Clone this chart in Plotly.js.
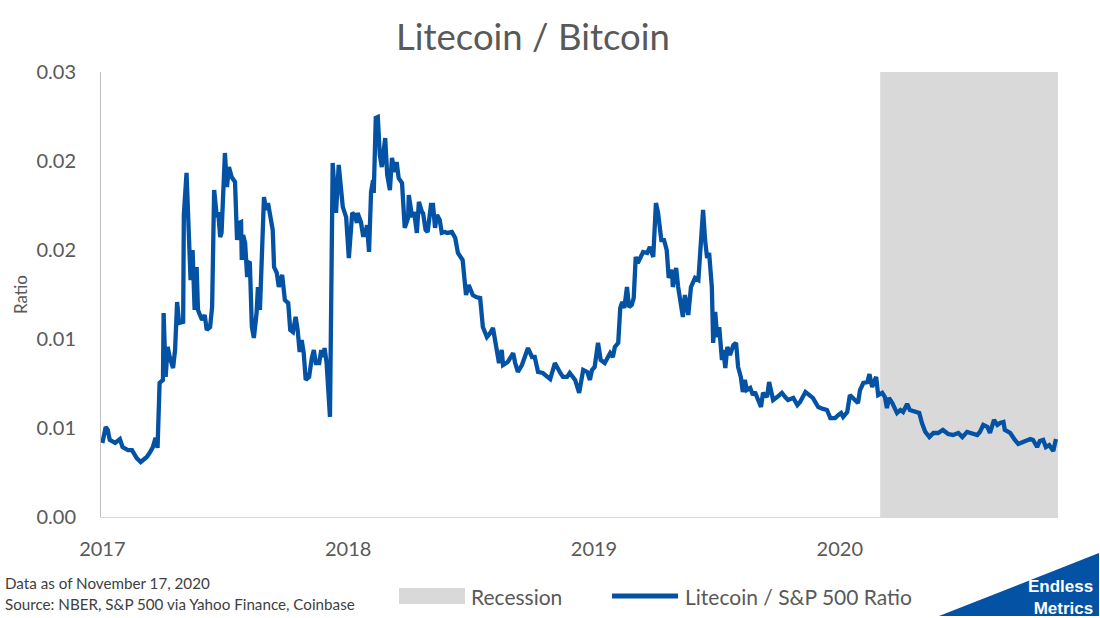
<!DOCTYPE html>
<html>
<head>
<meta charset="utf-8">
<script src="https://cdn.plot.ly/plotly-3.0.1.min.js"></script>
<style>
  html, body { margin: 0; padding: 0; background: #ffffff; }
  #chart { width: 1100px; height: 618px; outline: 1px solid #d9d9d9; outline-offset: -1px; }
</style>
</head>
<body>
<div id="chart"></div>
<script>
// ---------- data ----------
const dates = [
"2017-01-01","2017-01-06","2017-01-09","2017-01-12","2017-01-20","2017-01-27","2017-01-31","2017-02-08","2017-02-14","2017-02-21",
"2017-02-27","2017-03-08","2017-03-13","2017-03-17","2017-03-21","2017-03-24","2017-03-27","2017-04-01","2017-04-02","2017-04-05",
"2017-04-08","2017-04-11","2017-04-16","2017-04-19","2017-04-22","2017-04-25","2017-05-01","2017-05-02","2017-05-06","2017-05-12",
"2017-05-15","2017-05-18","2017-05-21","2017-05-23","2017-05-29","2017-06-02","2017-06-05","2017-06-10","2017-06-13","2017-06-16",
"2017-06-20","2017-06-22","2017-06-25","2017-06-27","2017-07-02","2017-07-05","2017-07-08","2017-07-12","2017-07-17","2017-07-20",
"2017-07-23","2017-07-26","2017-07-27","2017-07-29","2017-08-01","2017-08-04","2017-08-05","2017-08-08","2017-08-11","2017-08-14",
"2017-08-18","2017-08-20","2017-08-23","2017-08-26","2017-08-29","2017-09-01","2017-09-04","2017-09-11","2017-09-13","2017-09-17",
"2017-09-20","2017-09-25","2017-09-26","2017-09-29","2017-10-04","2017-10-07","2017-10-11","2017-10-15","2017-10-18","2017-10-21",
"2017-10-24","2017-10-27","2017-10-30","2017-11-04","2017-11-08","2017-11-11","2017-11-14","2017-11-19","2017-11-22","2017-11-25",
"2017-11-27","2017-11-30","2017-12-05","2017-12-09","2017-12-14","2017-12-18","2017-12-24","2017-12-29",
"2018-01-02","2018-01-07","2018-01-11","2018-01-14","2018-01-15","2018-01-20","2018-01-23","2018-01-26","2018-01-29","2018-02-01",
"2018-02-04","2018-02-07","2018-02-08","2018-02-11","2018-02-14","2018-02-17","2018-02-20","2018-02-25","2018-02-28","2018-03-04",
"2018-03-07","2018-03-11","2018-03-14","2018-03-17","2018-03-22","2018-03-26","2018-03-31","2018-04-01","2018-04-06","2018-04-09",
"2018-04-13","2018-04-16","2018-04-21","2018-04-22","2018-04-26","2018-04-29","2018-05-04","2018-05-07","2018-05-10","2018-05-13",
"2018-05-17","2018-05-20","2018-05-25","2018-05-28","2018-06-04","2018-06-09","2018-06-13","2018-06-20","2018-06-25","2018-06-29",
"2018-07-05","2018-07-10","2018-07-16","2018-07-20","2018-07-26","2018-07-31","2018-08-04","2018-08-10","2018-08-13","2018-08-17",
"2018-08-19","2018-08-26","2018-09-03","2018-09-06","2018-09-10","2018-09-16","2018-09-21","2018-09-25","2018-10-01","2018-10-05",
"2018-10-10","2018-10-17","2018-10-28","2018-11-04","2018-11-12","2018-11-16","2018-11-22","2018-11-26","2018-12-04","2018-12-10",
"2018-12-16","2018-12-22","2018-12-26","2018-12-29",
"2019-01-02","2019-01-07","2019-01-11","2019-01-17","2019-01-25","2019-01-29","2019-02-01","2019-02-06","2019-02-09","2019-02-12",
"2019-02-15","2019-02-19","2019-02-22","2019-02-26","2019-03-01","2019-03-04","2019-03-07","2019-03-12","2019-03-15","2019-03-21",
"2019-03-25","2019-03-30","2019-04-03","2019-04-06","2019-04-11","2019-04-15","2019-04-19","2019-04-22","2019-04-27","2019-04-28",
"2019-05-03","2019-05-06","2019-05-13","2019-05-16","2019-05-21","2019-05-25","2019-05-31","2019-06-05","2019-06-09","2019-06-12",
"2019-06-15","2019-06-18","2019-06-21","2019-06-25","2019-06-27","2019-06-30","2019-07-03","2019-07-06","2019-07-10","2019-07-12",
"2019-07-15","2019-07-18","2019-07-22","2019-07-27","2019-07-31","2019-08-03","2019-08-07","2019-08-10","2019-08-13","2019-08-16",
"2019-08-21","2019-08-25","2019-08-28","2019-09-02","2019-09-06","2019-09-09","2019-09-15","2019-09-18","2019-09-24","2019-09-30",
"2019-10-07","2019-10-12","2019-10-16","2019-10-24","2019-10-30","2019-11-03","2019-11-11","2019-11-22","2019-11-30","2019-12-07",
"2019-12-13","2019-12-18","2019-12-25","2019-12-30",
"2020-01-03","2020-01-06","2020-01-12","2020-01-16","2020-01-21","2020-01-28","2020-01-31","2020-02-05","2020-02-11","2020-02-14",
"2020-02-18","2020-02-24","2020-02-27","2020-03-04","2020-03-08","2020-03-11","2020-03-14","2020-03-19","2020-03-26","2020-03-31",
"2020-04-04","2020-04-10","2020-04-14","2020-04-22","2020-04-28","2020-05-02","2020-05-07","2020-05-13","2020-05-19","2020-05-26",
"2020-06-02","2020-06-10","2020-06-17","2020-06-25","2020-07-01","2020-07-08","2020-07-15","2020-07-23","2020-07-27","2020-08-01",
"2020-08-07","2020-08-11","2020-08-17","2020-08-22","2020-08-26","2020-08-31","2020-09-02","2020-09-10","2020-09-17","2020-09-22",
"2020-09-29","2020-10-10","2020-10-14","2020-10-20","2020-10-24","2020-10-29","2020-11-02","2020-11-07","2020-11-13","2020-11-17"
];

const ltcRatio = [
0.00416,0.00506,0.00489,0.00433,0.00416,0.00438,0.00393,0.00376,0.00376,0.00331,
0.00309,0.00337,0.00365,0.00393,0.00444,0.00388,0.00753,0.00770,0.01146,0.00787,
0.00955,0.00899,0.00837,0.00938,0.01208,0.01090,0.01096,0.01697,0.01933,0.01331,
0.01500,0.01163,0.01404,0.01163,0.01107,0.01135,0.01051,0.01067,0.01180,0.01837,
0.01685,0.01713,0.01573,0.01596,0.02045,0.01854,0.01966,0.01910,0.01882,0.01556,
0.01652,0.01657,0.01444,0.01584,0.01539,0.01348,0.01433,0.01427,0.01067,0.01006,
0.01146,0.01292,0.01163,0.01416,0.01798,0.01725,0.01764,0.01612,0.01404,0.01371,
0.01292,0.01360,0.01331,0.01219,0.01202,0.01051,0.01039,0.01124,0.01051,0.00927,
0.00994,0.00921,0.00770,0.00787,0.00893,0.00938,0.00865,0.00865,0.00938,0.00899,
0.00949,0.00865,0.00562,0.01989,0.01708,0.01978,0.01742,0.01685,
0.01455,0.01708,0.01697,0.01652,0.01708,0.01657,0.01584,0.01584,0.01640,0.01489,
0.01826,0.01893,0.01820,0.02242,0.02247,0.02034,0.01966,0.02129,0.01921,0.01837,
0.02017,0.01938,0.01994,0.01904,0.01876,0.01624,0.01680,0.01809,0.01685,0.01713,
0.01596,0.01770,0.01708,0.01713,0.01612,0.01601,0.01753,0.01753,0.01624,0.01697,
0.01669,0.01596,0.01601,0.01596,0.01601,0.01567,0.01483,0.01444,0.01247,0.01303,
0.01247,0.01236,0.01230,0.01067,0.01011,0.01034,0.01062,0.00938,0.00865,0.00938,
0.00854,0.00871,0.00921,0.00865,0.00815,0.00854,0.00899,0.00949,0.00899,0.00899,
0.00815,0.00809,0.00775,0.00865,0.00809,0.00787,0.00787,0.00809,0.00770,0.00697,
0.00826,0.00815,0.00770,0.00826,
0.00843,0.00978,0.00882,0.00865,0.00921,0.00899,0.00955,0.00978,0.01174,0.01208,
0.01174,0.01292,0.01180,0.01191,0.01230,0.01461,0.01427,0.01461,0.01489,0.01483,
0.01517,0.01461,0.01764,0.01713,0.01556,0.01556,0.01500,0.01343,0.01388,0.01292,
0.01399,0.01292,0.01124,0.01247,0.01135,0.01292,0.01343,0.01331,0.01573,0.01725,
0.01556,0.01455,0.01483,0.01292,0.00978,0.01152,0.01011,0.01067,0.00882,0.00938,
0.00837,0.00955,0.00910,0.00966,0.00978,0.00843,0.00787,0.00702,0.00770,0.00713,
0.00725,0.00685,0.00702,0.00657,0.00618,0.00697,0.00674,0.00758,0.00657,0.00674,
0.00697,0.00674,0.00657,0.00669,0.00629,0.00646,0.00702,0.00669,0.00618,0.00607,
0.00601,0.00556,0.00556,0.00573,
0.00584,0.00562,0.00590,0.00685,0.00663,0.00640,0.00713,0.00753,0.00758,0.00803,
0.00730,0.00787,0.00685,0.00697,0.00674,0.00612,0.00669,0.00640,0.00584,0.00601,
0.00590,0.00635,0.00601,0.00590,0.00584,0.00528,0.00478,0.00449,0.00472,0.00472,
0.00489,0.00466,0.00461,0.00472,0.00449,0.00478,0.00472,0.00461,0.00478,0.00517,
0.00506,0.00472,0.00545,0.00517,0.00528,0.00534,0.00489,0.00472,0.00433,0.00410,
0.00421,0.00438,0.00433,0.00393,0.00427,0.00433,0.00393,0.00404,0.00371,0.00438
];

const recessionStart = "2020-03-01";
const recessionEnd = "2020-11-20";

const yTickVals = [0, 0.005, 0.01, 0.015, 0.02, 0.025];
const yTickText = ["0.00", "0.01", "0.01", "0.02", "0.02", "0.03"];
const xTickVals = ["2017-01-01", "2018-01-01", "2019-01-01", "2020-01-01"];
const xTickText = ["2017", "2018", "2019", "2020"];

const seriesName = "Litecoin / S&P 500 Ratio";
const recessionName = "Recession";
const chartTitle = "Litecoin / Bitcoin";
const yTitle = "Ratio";
const noteDate = "Data as of November 17, 2020";
const noteSource = "Source: NBER, S&P 500 via Yahoo Finance, Coinbase";
const logoLines = ["Endless", "Metrics"];

// ---------- chart ----------
const FONT = "Lato, 'Open Sans', sans-serif";
const GREY = "#595959";
const BLUE = "#0452A4";
const SHADE = "#d9d9d9";

// helpers: convert pixel positions of decoration (legend, notes, logo) into paper coordinates
const PL = 101, PR = 1058, PT = 72, PB = 517;
const px = v => (v - PL) / (PR - PL);
const py = v => (PB - v) / (PB - PT);

const traces = [{
  type: "scatter",
  mode: "lines",
  x: dates,
  y: ltcRatio,
  name: seriesName,
  line: { color: BLUE, width: 4.3 },
  showlegend: false,
  hoverinfo: "x+y"
}];

const layout = {
  width: 1100,
  height: 618,
  margin: { l: PL, r: 1100 - PR, t: PT, b: 618 - PB, autoexpand: false },
  paper_bgcolor: "#ffffff",
  plot_bgcolor: "#ffffff",
  font: { family: FONT, color: GREY },
  title: {
    text: chartTitle,
    x: 0.4845, xref: "container", xanchor: "center",
    y: 0.94, yref: "container", yanchor: "middle",
    font: { size: 36.5, color: GREY, family: FONT }
  },
  xaxis: {
    type: "date",
    range: ["2016-12-30", recessionEnd],
    tickvals: xTickVals,
    ticktext: xTickText,
    showgrid: false,
    zeroline: false,
    showline: true,
    linecolor: SHADE,
    linewidth: 1,
    ticks: "",
    ticklabelstandoff: 14,
    tickfont: { size: 20, color: GREY, family: FONT }
  },
  yaxis: {
    range: [0, 0.025],
    tickvals: yTickVals,
    ticktext: yTickText,
    showgrid: false,
    zeroline: false,
    showline: true,
    linecolor: "#bfbfbf",
    linewidth: 1,
    ticks: "",
    ticklabelstandoff: 20,
    tickfont: { size: 20, color: GREY, family: FONT },
    title: { text: yTitle, standoff: 4, font: { size: 17, color: GREY, family: FONT } }
  },
  showlegend: false,
  shapes: [
    // recession shading
    {
      type: "rect", xref: "x", yref: "paper",
      x0: recessionStart, x1: recessionEnd, y0: 0, y1: 1,
      fillcolor: SHADE, line: { width: 0 }, layer: "below"
    },
    // legend swatches
    {
      type: "rect", xref: "paper", yref: "paper",
      x0: px(399), x1: px(465), y0: py(604), y1: py(588),
      fillcolor: SHADE, line: { width: 0 }
    },
    {
      type: "line", xref: "paper", yref: "paper",
      x0: px(612), x1: px(678), y0: py(596), y1: py(596),
      line: { color: BLUE, width: 5 }
    },
    // logo triangle
    {
      type: "path", xref: "paper", yref: "paper",
      path: "M" + px(939) + "," + py(616) + " L" + px(1099) + "," + py(553) + " L" + px(1099) + "," + py(616) + " Z",
      fillcolor: BLUE, line: { width: 0 }, layer: "above"
    }
  ],
  annotations: [
    { text: recessionName, xref: "paper", yref: "paper", x: px(469), y: py(596), xanchor: "left", yanchor: "middle",
      showarrow: false, font: { size: 21, color: GREY, family: FONT } },
    { text: seriesName, xref: "paper", yref: "paper", x: px(683), y: py(596), xanchor: "left", yanchor: "middle",
      showarrow: false, font: { size: 21, color: GREY, family: FONT } },
    { text: noteDate, xref: "paper", yref: "paper", x: px(3), y: py(583), xanchor: "left", yanchor: "middle",
      showarrow: false, font: { size: 15.2, color: "#404040", family: FONT } },
    { text: noteSource, xref: "paper", yref: "paper", x: px(3), y: py(604), xanchor: "left", yanchor: "middle",
      showarrow: false, font: { size: 15.2, color: "#404040", family: FONT } },
    { text: "<b>" + logoLines[0] + "</b><br><b>" + logoLines[1] + "</b>", xref: "paper", yref: "paper",
      x: px(1094), y: py(597), xanchor: "right", yanchor: "middle", align: "right", showarrow: false,
      borderpad: 0,
      font: { size: 17, color: "#ffffff", family: "'Liberation Sans', Arial, sans-serif" } }
  ]
};

Plotly.newPlot("chart", traces, layout, { displayModeBar: false, staticPlot: true });
</script>
</body>
</html>
